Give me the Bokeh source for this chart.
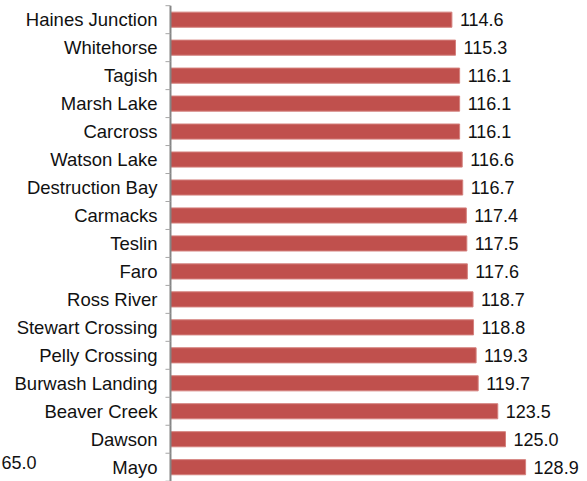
import math
from bokeh.plotting import figure
from bokeh.models import ColumnDataSource, Range1d
from bokeh.core.properties import value
from bokeh.embed import file_html
from bokeh.resources import INLINE

communities = ["Haines Junction", "Whitehorse", "Tagish", "Marsh Lake", "Carcross",
               "Watson Lake", "Destruction Bay", "Carmacks", "Teslin", "Faro",
               "Ross River", "Stewart Crossing", "Pelly Crossing", "Burwash Landing",
               "Beaver Creek", "Dawson", "Mayo"]
values = [114.6, 115.3, 116.1, 116.1, 116.1, 116.6, 116.7, 117.4, 117.5, 117.6,
          118.7, 118.8, 119.3, 119.7, 123.5, 125.0, 128.9]
stray_label = "65.0"
stray_pos = (27.2, 15.83)
baseline = 60

FONT = "Liberation Sans"
TXT = "#111111"
idx = list(range(len(communities)))
src = ColumnDataSource(dict(
    y=idx, v=values, name=communities,
    base=[baseline] * len(idx),
    lbl=["%.1f" % v for v in values],
))
bounds = [i - 0.5 for i in range(len(communities) + 1)]

p = figure(width=587, height=481, output_backend="svg", toolbar_location=None,
           x_range=Range1d(27.02, 140.91), y_range=Range1d(16.511, -0.686),
           min_border_left=0, min_border_right=0, min_border_top=0, min_border_bottom=0)
p.outline_line_color = None
p.grid.visible = False
p.xaxis.visible = False
p.yaxis.visible = False

p.hbar(y="y", left=baseline, right="v", height=0.54, source=src,
       fill_color="#C0504D", line_color="#D4807D", line_width=1)

# axis line and boundary ticks
p.segment(x0=[baseline], y0=[bounds[0]], x1=[baseline], y1=[bounds[-1] + 0.2],
          line_color="#868686", line_width=2)
p.ray(x=[baseline] * len(bounds), y=bounds, length=5, length_units="screen",
      angle=math.pi, line_color="#A6A6A6", line_width=1)

# category labels
p.text(x="base", y="y", text="name", source=src, x_offset=-13,
       text_baseline="middle", text_align="right",
       text_font=value(FONT), text_font_size="18.5px", text_color=TXT)

# value labels
p.text(x="v", y="y", text="lbl", source=src, x_offset=8,
       text_baseline="middle", text_align="left",
       text_font=value(FONT), text_font_size="18px", text_color=TXT)

p.text(x=[stray_pos[0]], y=[stray_pos[1]], text=[stray_label],
       text_baseline="middle", text_align="left",
       text_font=value(FONT), text_font_size="18px", text_color=TXT)

open("out.html", "w").write(file_html(p, INLINE))
